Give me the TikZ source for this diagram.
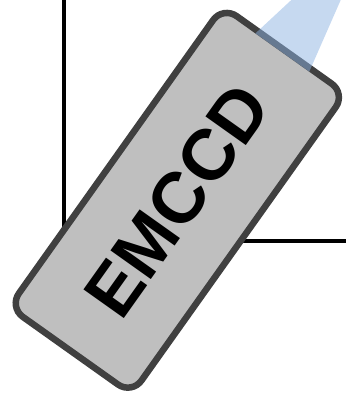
\documentclass[tikz,border=0pt]{standalone}
\usepackage{fontspec}
\usepackage{xcolor}
\usepackage{tikz}
\usetikzlibrary{
  calc,
  positioning
}
\newfontfamily\ccdfont{Liberation Sans}
\definecolor{ccdgray}{RGB}{191,191,191}
\definecolor{rimgray}{RGB}{64,64,64}
\definecolor{beamblue}{RGB}{141,179,226}
\tikzset{
  ccdbox/.style={draw=rimgray,line width=6.5pt,fill=ccdgray,
    rounded corners=16.75pt,inner sep=0pt,
    minimum width=369pt,minimum height=150.4pt,
    font=\ccdfont\bfseries\fontsize{72}{80}\selectfont},
  frameline/.style={draw=black,line width=4pt},
  beam/.style={fill=beamblue,fill opacity=0.5}
}
\begin{document}
\begin{tikzpicture}[x=1pt,y=1pt]
  \useasboundingbox (0,0) rectangle (346,-397);
  \coordinate (ftop) at (64,0);
  \coordinate (fcorner) at (64,-241);
  \coordinate (fright) at (346,-241);
  \draw[frameline] (ftop)--(fcorner)--(fright);
  \node[ccdbox,rotate=54.6] (ccd) at (177.3,-200.3) {EMCCD};
  % light cone onto the sensor end
  \begin{scope}[shift={(ccd.center)},rotate=54.6]
    \coordinate (src) at (341,0);
    \fill[beam] (181.4,-33)--(src)--(181.4,33)--cycle;
  \end{scope}
\end{tikzpicture}
\end{document}
